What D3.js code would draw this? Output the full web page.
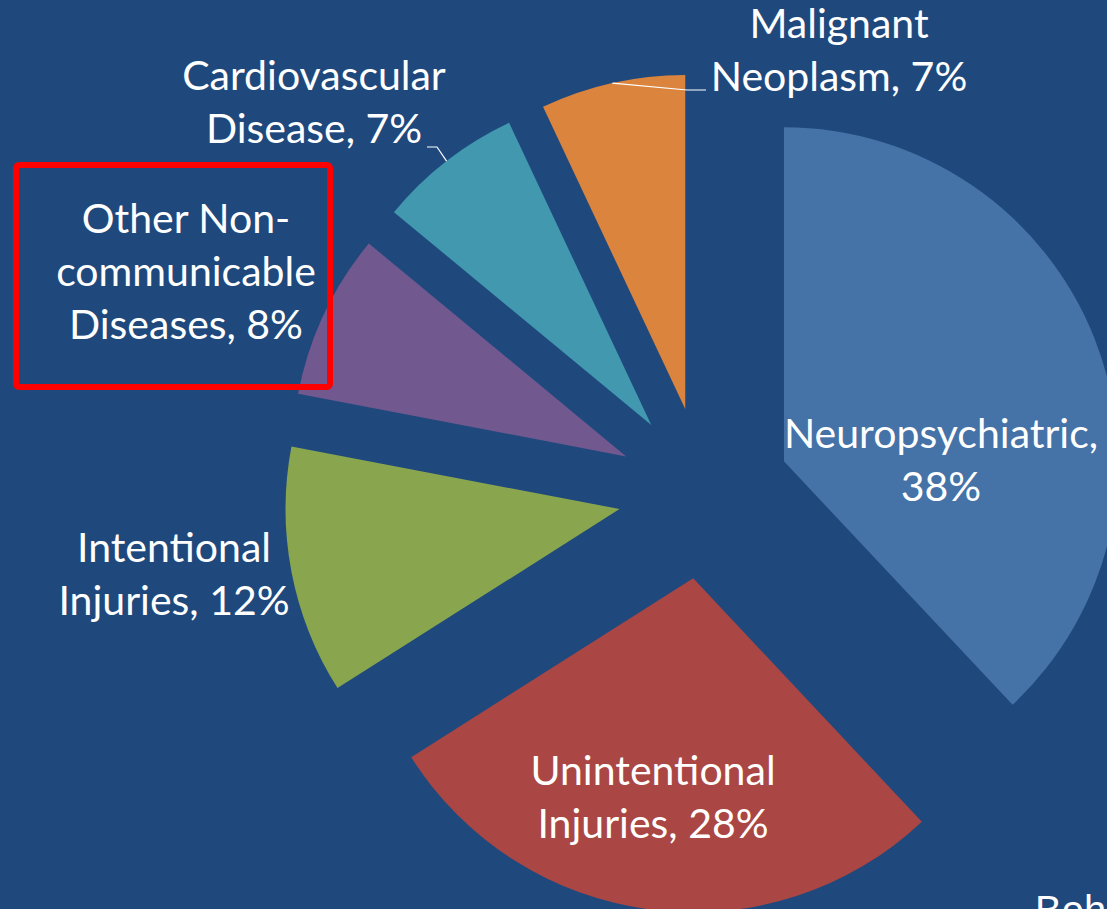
<!DOCTYPE html>
<html>
<head>
<meta charset="utf-8">
<script src="https://cdn.jsdelivr.net/npm/d3@7"></script>
<style>
  html, body { margin: 0; padding: 0; background: #1F497D; overflow: hidden; }
  svg { display: block; }
</style>
</head>
<body>
<svg id="chart" width="1107" height="909"></svg>
<script>
// ---- data ----
const categories = ["Neuropsychiatric", "Unintentional Injuries", "Intentional Injuries",
                    "Other Non-communicable Diseases", "Cardiovascular Disease", "Malignant Neoplasm"];
const values = [38, 28, 12, 8, 7, 7];
const labelLines = [
  ["Neuropsychiatric,", "38%"],
  ["Unintentional", "Injuries, 28%"],
  ["Intentional", "Injuries, 12%"],
  ["Other Non-", "communicable", "Diseases, 8%"],
  ["Cardiovascular", "Disease, 7%"],
  ["Malignant", "Neoplasm, 7%"]
];
const colors = ["#4572A7", "#AA4643", "#89A54E", "#71588F", "#4198AF", "#DB843D"];

// ---- layout ----
const W = 1107, H = 909;
const cx = 704, cy = 493, R = 334, explode = 86;
const fontSize = 41, lineH = 53;
// label anchors (center x, first baseline y)
const labelPos = [[941, 448], [653, 785], [174, 562], [186, 233], [314, 90], [839, 38]];
// leader lines: [elbow, end] for slices with an outside label
const leaders = { 4: [[437, 147], [427, 147]], 5: [[687, 90], [706, 90]] };

const svg = d3.select("#chart");
svg.append("rect").attr("width", W).attr("height", H).attr("fill", "#1F497D");

const pie = d3.pie().sort(null).value(d => d).startAngle(0).endAngle(2 * Math.PI);
const arcs = pie(values);
const arc = d3.arc().innerRadius(0).outerRadius(R);

function dir(a) { return [Math.sin(a), -Math.cos(a)]; }

const g = svg.append("g").attr("transform", `translate(${cx},${cy})`);
g.selectAll("path.slice").data(arcs).enter().append("path")
  .attr("class", "slice")
  .attr("d", arc)
  .attr("fill", (d, i) => colors[i])
  .attr("transform", d => {
    const m = (d.startAngle + d.endAngle) / 2, v = dir(m);
    return `translate(${v[0] * explode},${v[1] * explode})`;
  });

// leader lines from outer arc midpoint
arcs.forEach((d, i) => {
  if (!leaders[i]) return;
  const m = (d.startAngle + d.endAngle) / 2, v = dir(m);
  const sx = cx + v[0] * (explode + R), sy = cy + v[1] * (explode + R);
  const pts = [[sx, sy]].concat(leaders[i]);
  svg.append("path")
    .attr("d", d3.line()(pts))
    .attr("fill", "none")
    .attr("stroke", "#FFFFFF")
    .attr("stroke-width", 1.2);
});

// labels
labelLines.forEach((lines, i) => {
  const t = svg.append("text")
    .attr("text-anchor", "middle")
    .attr("fill", "#FFFFFF")
    .attr("font-family", "Lato, 'Noto Sans', sans-serif")
    .attr("font-size", fontSize);
  lines.forEach((s, j) => {
    t.append("tspan").attr("x", labelPos[i][0]).attr("y", labelPos[i][1] + j * lineH).text(s);
  });
});

// highlight box around "Other Non-communicable Diseases"
svg.append("rect")
  .attr("x", 16).attr("y", 165).attr("width", 314).attr("height", 222)
  .attr("rx", 3)
  .attr("fill", "none").attr("stroke", "#FF0000").attr("stroke-width", 6);

// partially visible slide text at bottom right
svg.append("text")
  .attr("x", 1035).attr("y", 924)
  .attr("fill", "#FFFFFF")
  .attr("font-family", "'Liberation Sans', Arial, sans-serif")
  .attr("font-size", 40)
  .text("Beh");
</script>
</body>
</html>
